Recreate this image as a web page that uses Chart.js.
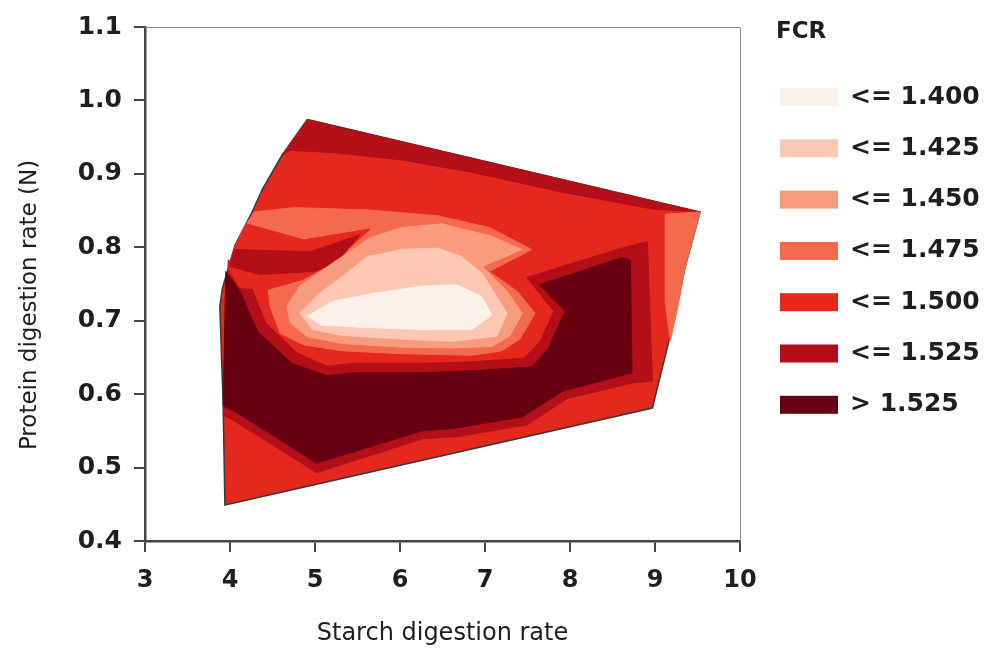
<!DOCTYPE html>
<html>
<head>
<meta charset="utf-8">
<script src="https://cdn.jsdelivr.net/npm/chart.js@4/dist/chart.umd.min.js"></script>
<style>
  html, body { margin: 0; padding: 0; background: #fff; }
  canvas { display: block; }
</style>
</head>
<body>
<canvas id="chart" width="993" height="656"></canvas>
<script>
'use strict';
// FCR classes (legend), lightest to darkest
const levels = ['<= 1.400', '<= 1.425', '<= 1.450', '<= 1.475', '<= 1.500', '<= 1.525', '> 1.525'];
const levelColors = ['#fbf1e9', '#fcc8b3', '#f99b7d', '#f5694c', '#e4281d', '#b40f19', '#690011'];
const xTicks = [3, 4, 5, 6, 7, 8, 9, 10];
const yTicks = [0.4, 0.5, 0.6, 0.7, 0.8, 0.9, 1.0, 1.1];

// Contour regions as [starch rate, protein rate] outlines.
// Whole sampled area (FCR <= 1.500 background)
const hull = [[4.91,0.974],[9.53,0.848],[9.35,0.771],[9.25,0.713],[8.97,0.581],[3.94,0.449],[3.92,0.584],
  [3.88,0.720],[3.91,0.744],[4.06,0.803],[4.26,0.848],[4.38,0.879],[4.61,0.925]];
// dark band along the upper edge (<= 1.525)
const topBand = [[4.91,0.974],[9.53,0.848],[8.97,0.852],[7.91,0.875],[6.85,0.902],[6.02,0.919],[5.20,0.929],[4.71,0.932],[4.61,0.925]];
// strip along the right edge (<= 1.475)
const rightStrip = [[9.12,0.845],[9.53,0.848],[9.35,0.771],[9.27,0.720],[9.18,0.672],[9.12,0.726]];
// ring around the high zone (<= 1.525)
const lowRing = [[3.98,0.783],[4.24,0.749],[4.42,0.697],[4.79,0.656],[5.14,0.638],[5.46,0.642],[6.26,0.642],[6.85,0.644],
  [7.46,0.649],[7.65,0.672],[7.81,0.713],[7.49,0.759],[8.61,0.799],[8.91,0.808],[8.97,0.618],[8.73,0.615],[7.97,0.594],
  [7.49,0.558],[6.67,0.542],[6.26,0.539],[5.02,0.493],[4.00,0.567],[3.92,0.571]];
// high zone (> 1.525)
const highZone = [[3.95,0.767],[4.12,0.740],[4.32,0.686],[4.73,0.642],[5.14,0.625],[5.46,0.629],[6.26,0.629],[6.85,0.632],
  [7.55,0.637],[7.75,0.663],[7.94,0.713],[7.64,0.749],[8.61,0.786],[8.71,0.783],[8.73,0.629],[7.91,0.604],[7.44,0.569],
  [6.61,0.553],[6.26,0.550],[5.02,0.506],[4.05,0.577],[3.92,0.584]];
// centre basin, outer to inner
const basin1475 = [[4.28,0.848],[4.75,0.854],[5.61,0.851],[6.44,0.843],[7.05,0.827],[7.55,0.797],[7.05,0.767],[7.38,0.740],
  [7.59,0.710],[7.41,0.675],[7.20,0.659],[6.85,0.653],[6.02,0.655],[5.32,0.659],[4.87,0.667],[4.59,0.683],[4.47,0.720],
  [4.45,0.743],[4.14,0.753],[4.02,0.778],[4.06,0.801],[4.15,0.824]];
const wedge1500 = [[4.19,0.832],[4.87,0.810],[5.65,0.825],[5.20,0.778],[4.85,0.756],[4.45,0.743],[4.12,0.745],[3.98,0.770],[4.06,0.803]];
const wedge1525 = [[4.05,0.797],[4.94,0.794],[5.53,0.817],[5.26,0.780],[4.99,0.767],[4.35,0.763],[4.00,0.774]];
const basin1450 = [[4.67,0.720],[4.82,0.747],[5.20,0.778],[5.65,0.813],[6.02,0.827],[6.49,0.832],[7.05,0.816],[7.44,0.797],
  [6.97,0.774],[7.26,0.740],[7.44,0.710],[7.29,0.679],[7.08,0.665],[6.61,0.663],[6.02,0.664],[5.32,0.669],[4.91,0.678],[4.71,0.697]];
const basin1425 = [[4.82,0.710],[5.08,0.740],[5.32,0.760],[5.61,0.787],[6.02,0.797],[6.44,0.799],[6.73,0.787],[6.97,0.764],
  [7.26,0.710],[7.14,0.679],[6.61,0.672],[6.02,0.675],[5.32,0.680],[4.97,0.688]];
const basin1400 = [[4.91,0.706],[5.20,0.726],[5.67,0.737],[6.26,0.747],[6.67,0.749],[6.96,0.733],[7.08,0.708],[6.85,0.688],
  [6.26,0.688],[5.55,0.691],[5.08,0.694]];

// painting order, back to front; level = index into levels
const regions = [
  { pts: hull, level: 4, edge: true },
  { pts: topBand, level: 5 },
  { pts: rightStrip, level: 3 },
  { pts: lowRing, level: 5 },
  { pts: highZone, level: 6 },
  { pts: basin1475, level: 3 },
  { pts: wedge1500, level: 4 },
  { pts: wedge1525, level: 5 },
  { pts: basin1450, level: 2 },
  { pts: basin1425, level: 1 },
  { pts: basin1400, level: 0 }
];

const textColor = '#1e1e1e';
const font = '"DejaVu Sans", Verdana, sans-serif';
const yTitle = 'Protein digestion rate (N)';

// plot frame (top/right), y title and the FCR key
const frameAndKey = {
  id: 'frameAndKey',
  afterDraw(chart) {
    const { ctx, chartArea: a } = chart;
    ctx.save();
    ctx.strokeStyle = '#8c8c8c';
    ctx.lineWidth = 1;
    ctx.beginPath();
    ctx.moveTo(a.left, a.top + 0.5);
    ctx.lineTo(a.right + 0.5, a.top + 0.5);
    ctx.lineTo(a.right + 0.5, a.bottom);
    ctx.stroke();

    ctx.fillStyle = textColor;
    ctx.textBaseline = 'middle';
    ctx.save();
    ctx.translate(30, 305);
    ctx.rotate(-Math.PI / 2);
    ctx.textAlign = 'center';
    ctx.font = '23px ' + font;
    ctx.fillText(yTitle, 0, 0);
    ctx.restore();

    ctx.font = 'bold 23px ' + font;
    ctx.fillText('FCR', 776, 32);
    ctx.font = 'bold 25px ' + font;
    levels.forEach((lab, i) => {
      const y = 97 + i * 51.3;
      ctx.fillStyle = levelColors[i];
      ctx.fillRect(780, y - 9, 58, 18);
      ctx.fillStyle = textColor;
      ctx.fillText(lab, 850, y);
    });
    ctx.restore();
  }
};

const ctx = document.getElementById('chart').getContext('2d');
new Chart(ctx, {
  type: 'scatter',
  data: {
    datasets: regions.map((r, i) => ({
      label: levels[r.level],
      data: r.pts.concat([r.pts[0]]).map(p => ({ x: p[0], y: p[1] })),
      showLine: true,
      fill: 'shape',
      tension: 0,
      pointRadius: 0,
      backgroundColor: levelColors[r.level],
      borderColor: r.edge ? '#3a3a3a' : levelColors[r.level],
      borderWidth: r.edge ? 1.5 : 1,
      order: regions.length - i
    }))
  },
  options: {
    responsive: false,
    devicePixelRatio: 1,
    animation: false,
    layout: { padding: { top: 24, right: 253, left: 0, bottom: 0 } },
    plugins: { legend: { display: false }, tooltip: { enabled: false } },
    scales: {
      x: {
        type: 'linear', min: 3, max: 10,
        afterBuildTicks: s => { s.ticks = xTicks.map(v => ({ value: v })); },
        afterFit: s => { s.height = 115; },
        grid: { drawOnChartArea: false, tickLength: 11, color: '#444', lineWidth: 2 },
        border: { color: '#444', width: 2.5 },
        ticks: { color: textColor, font: { size: 24, family: font, weight: 'bold' }, padding: 14, maxRotation: 0 },
        title: { display: true, text: 'Starch digestion rate', color: textColor,
                 font: { size: 24, family: font }, padding: { top: 0, bottom: 8 } }
      },
      y: {
        type: 'linear', min: 0.4, max: 1.1,
        afterBuildTicks: s => { s.ticks = yTicks.map(v => ({ value: v })); },
        afterFit: s => { s.width = 145; },
        grid: { drawOnChartArea: false, tickLength: 11, color: '#444', lineWidth: 2 },
        border: { color: '#444', width: 2.5 },
        ticks: { color: textColor, font: { size: 25, family: font, weight: 'bold' }, padding: 12,
                 callback: v => v.toFixed(1) }
      }
    }
  },
  plugins: [frameAndKey]
});
</script>
</body>
</html>
